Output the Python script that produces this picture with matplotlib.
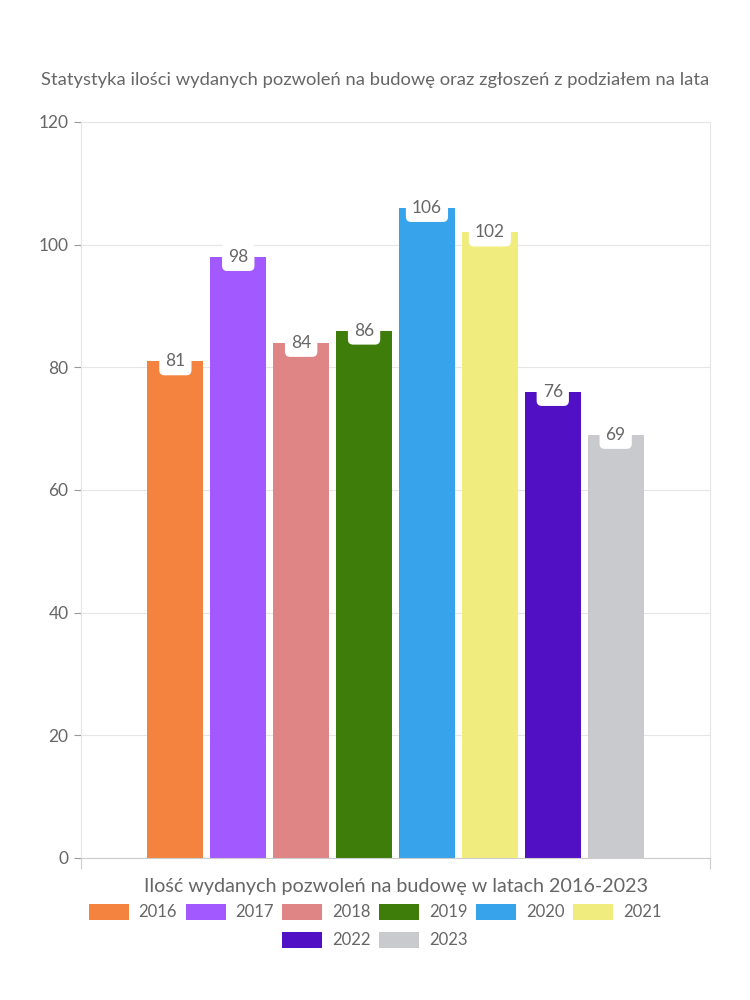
import matplotlib.pyplot as plt
from matplotlib.patches import Patch

years = ["2016", "2017", "2018", "2019", "2020", "2021", "2022", "2023"]
permits = [81, 98, 84, 86, 106, 102, 76, 69]
colors = ["#F4833F", "#A259FF", "#E08585", "#3F7D0B",
          "#37A3EB", "#F0EC7D", "#5210C4", "#C9CACE"]

plt.rcParams['font.family'] = ['Lato', 'DejaVu Sans']
text_col = "#666666"

fig = plt.figure(figsize=(7.5, 10), dpi=100)
ax = fig.add_axes([0.108, 0.142, 0.8387, 0.736])

for i, (y, v, c) in enumerate(zip(years, permits, colors)):
    ax.bar(i, v, width=0.89, color=c, zorder=2)
    ax.text(i, v, str(v), ha='center', va='center', fontsize=12.5, color=text_col, zorder=3,
            bbox=dict(boxstyle='round,pad=0.35,rounding_size=0.3', fc='white', ec='none'))

ax.set_xlim(-1.5, 8.5)
ax.set_ylim(0, 120)
ax.set_yticks(range(0, 121, 20))
ax.set_xticks([-1.5, 8.5])
ax.set_xticklabels(["", ""])
ax.tick_params(axis='y', colors='#999999', labelcolor=text_col, labelsize=12.5, length=5, pad=4)
ax.tick_params(axis='x', colors='#cccccc', length=8)
ax.grid(axis='y', color='#e6e6e6', linewidth=0.8, zorder=0)
for s in ['left', 'right', 'top']:
    ax.spines[s].set_color('#e6e6e6')
ax.spines['bottom'].set_color('#cccccc')

ax.set_xlabel("Ilość wydanych pozwoleń na budowę w latach 2016-2023",
              fontsize=14.2, color=text_col, labelpad=3)

fig.text(0.5, 0.92, "Statystyka ilości wydanych pozwoleń na budowę oraz zgłoszeń z podziałem na lata",
         ha='center', va='center', fontsize=13.2, color=text_col)

handles = [Patch(facecolor=c) for c in colors]
kw = dict(loc='center', frameon=False, fontsize=12, handlelength=2.4, handleheight=1.1,
          columnspacing=0.5, handletextpad=0.6, labelcolor=text_col)
leg1 = fig.legend(handles[:6], years[:6], bbox_to_anchor=(0.5, 0.088), ncol=6, **kw)
leg2 = fig.legend(handles[6:], years[6:], bbox_to_anchor=(0.5, 0.06), ncol=2, **kw)

fig.savefig("out.png", dpi=100)
